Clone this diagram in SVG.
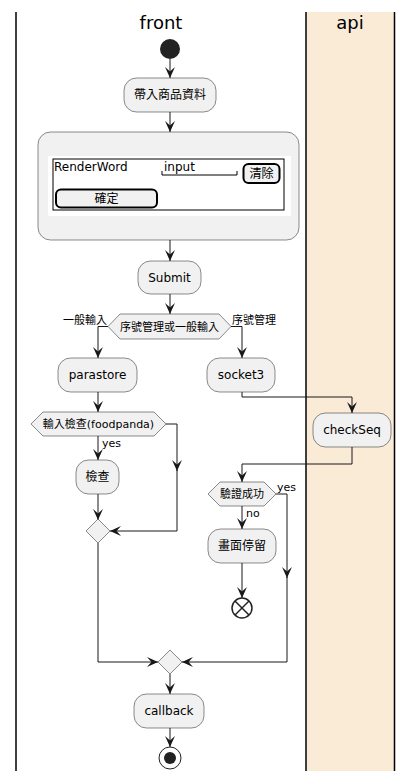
<svg xmlns="http://www.w3.org/2000/svg" width="412" height="781" viewBox="0 0 412 781">
<defs>
<style>
.t{font-family:"DejaVu Sans","Noto Sans CJK TC",sans-serif;font-size:12px;fill:#000}
.s{font-family:"DejaVu Sans","Noto Sans CJK TC",sans-serif;font-size:11px;fill:#000}
.h{font-family:"DejaVu Sans",sans-serif;font-size:18px;fill:#000}
.box{fill:#F1F1F1;stroke:#181818;stroke-width:0.5}
.ln{fill:none;stroke:#181818;stroke-width:1}
.lane{stroke:#000;stroke-width:1.5}
.btn{fill:#F1F1F1;stroke:#000;stroke-width:2}
</style>
<marker id="a" viewBox="0 0 10 10" refX="10" refY="5" markerWidth="11" markerHeight="11" markerUnits="userSpaceOnUse" orient="auto">
<path d="M0,0.5 L10,5 L0,9.5 L4,5 Z" fill="#181818"/>
</marker>
</defs>
<rect width="412" height="781" fill="#fff"/>
<rect x="306" y="12" width="88.5" height="759" fill="#FAEBD7"/>
<line class="lane" x1="16" y1="12" x2="16" y2="771"/>
<line class="lane" x1="306" y1="12" x2="306" y2="771"/>
<line class="lane" x1="394.5" y1="12" x2="394.5" y2="771"/>
<text class="h" x="161" y="29" text-anchor="middle">front</text>
<text class="h" x="350" y="29" text-anchor="middle">api</text>

<g id="connectors">
<line class="ln" x1="170" y1="59" x2="170" y2="78" marker-end="url(#a)"/>
<line class="ln" x1="170" y1="112" x2="170" y2="132" marker-end="url(#a)"/>
<line class="ln" x1="170" y1="240" x2="170" y2="261" marker-end="url(#a)"/>
<line class="ln" x1="170" y1="294" x2="170" y2="314" marker-end="url(#a)"/>
<polyline class="ln" points="108,326.5 98,326.5 98,358" marker-end="url(#a)"/>
<polyline class="ln" points="231,326.5 242,326.5 242,358" marker-end="url(#a)"/>
<line class="ln" x1="98" y1="392" x2="98" y2="412" marker-end="url(#a)"/>
<line class="ln" x1="98" y1="436" x2="98" y2="460" marker-end="url(#a)"/>
<line class="ln" x1="98" y1="494" x2="98" y2="520" marker-end="url(#a)"/>
<polyline class="ln" points="166,424 177,424 177,471" marker-end="url(#a)"/>
<polyline class="ln" points="177,470 177,531 110,531" marker-end="url(#a)"/>
<polyline class="ln" points="98,543 98,662 158,662" marker-end="url(#a)"/>
<polyline class="ln" points="242,392 242,397 352,397 352,413" marker-end="url(#a)"/>
<polyline class="ln" points="352,447 352,464 242,464 242,482" marker-end="url(#a)"/>
<line class="ln" x1="242" y1="506" x2="242" y2="529" marker-end="url(#a)"/>
<line class="ln" x1="242" y1="563" x2="242" y2="598" marker-end="url(#a)"/>
<polyline class="ln" points="276,494 287,494 287,578" marker-end="url(#a)"/>
<polyline class="ln" points="287,577 287,662 182,662" marker-end="url(#a)"/>
<line class="ln" x1="170" y1="674" x2="170" y2="694" marker-end="url(#a)"/>
<line class="ln" x1="170" y1="728" x2="170" y2="747" marker-end="url(#a)"/>
<text class="s" x="107" y="324" text-anchor="end">一般輸入</text>
<text class="s" x="232" y="324">序號管理</text>
<text class="s" x="102" y="447">yes</text>
<text class="s" x="277" y="491">yes</text>
<text class="s" x="246" y="517">no</text>
</g>

<g id="start"><circle cx="170" cy="49" r="10" fill="#222"/></g>
<g id="n1"><rect class="box" x="124" y="78" width="92" height="34" rx="12.5"/><text class="t" x="170" y="99" text-anchor="middle">帶入商品資料</text></g>
<g id="n2">
<rect class="box" x="38" y="132" width="261" height="108" rx="12.5"/>
<rect x="48" y="156" width="243" height="60" fill="#fff"/>
<rect x="53" y="159" width="231" height="51" fill="none" stroke="#000" stroke-width="1"/>
<text class="t" x="54" y="171">RenderWord</text>
<text class="t" x="164" y="171">input</text>
<polyline points="162,171 162,175 237,175 237,171" fill="none" stroke="#000" stroke-width="1"/>
<rect class="btn" x="243.5" y="164" width="36" height="19" rx="5"/>
<text class="t" x="261.5" y="178" text-anchor="middle">清除</text>
<rect class="btn" x="56" y="189.5" width="101" height="18" rx="5"/>
<text class="t" x="106.5" y="203" text-anchor="middle">確定</text>
</g>
<g id="n3"><rect class="box" x="138" y="261" width="63" height="33" rx="12.5"/><text class="t" x="169.5" y="282" text-anchor="middle">Submit</text></g>
<g id="d1"><polygon class="box" points="108,326.5 120,314 219,314 231,326.5 219,339 120,339"/><text class="s" x="169.5" y="331" text-anchor="middle">序號管理或一般輸入</text></g>
<g id="n4"><rect class="box" x="58" y="358" width="79" height="34" rx="12.5"/><text class="t" x="97.5" y="379" text-anchor="middle">parastore</text></g>
<g id="n5"><rect class="box" x="207" y="358" width="68" height="34" rx="12.5"/><text class="t" x="241" y="379" text-anchor="middle">socket3</text></g>
<g id="n6"><rect class="box" x="313" y="413" width="78" height="34" rx="12.5"/><text class="t" x="352" y="434" text-anchor="middle">checkSeq</text></g>
<g id="d2"><polygon class="box" points="31,424 43,412 154,412 166,424 154,436 43,436"/><text class="s" x="98.5" y="428" text-anchor="middle">輸入檢查(foodpanda)</text></g>
<g id="n7"><rect class="box" x="76" y="460" width="43" height="34" rx="12.5"/><text class="t" x="97.5" y="481" text-anchor="middle">檢查</text></g>
<g id="m1"><polygon class="box" points="98,519 110,531 98,543 86,531"/></g>
<g id="d3"><polygon class="box" points="208,494 220,482 264,482 276,494 264,506 220,506"/><text class="s" x="242" y="498" text-anchor="middle">驗證成功</text></g>
<g id="n8"><rect class="box" x="208" y="529" width="68" height="34" rx="12.5"/><text class="t" x="242" y="550" text-anchor="middle">畫面停留</text></g>
<g id="stop1"><circle cx="242" cy="608" r="10" fill="#fff" stroke="#222" stroke-width="1.5"/><line x1="235" y1="601" x2="249" y2="615" stroke="#222" stroke-width="1.5"/><line x1="249" y1="601" x2="235" y2="615" stroke="#222" stroke-width="1.5"/></g>
<g id="m2"><polygon class="box" points="170,650 182,662 170,674 158,662"/></g>
<g id="n9"><rect class="box" x="134" y="694" width="70" height="34" rx="12.5"/><text class="t" x="169" y="715" text-anchor="middle">callback</text></g>
<g id="end"><circle cx="170" cy="758" r="11" fill="#fff" stroke="#222" stroke-width="1"/><circle cx="170" cy="758" r="6" fill="#222"/></g>
</svg>
